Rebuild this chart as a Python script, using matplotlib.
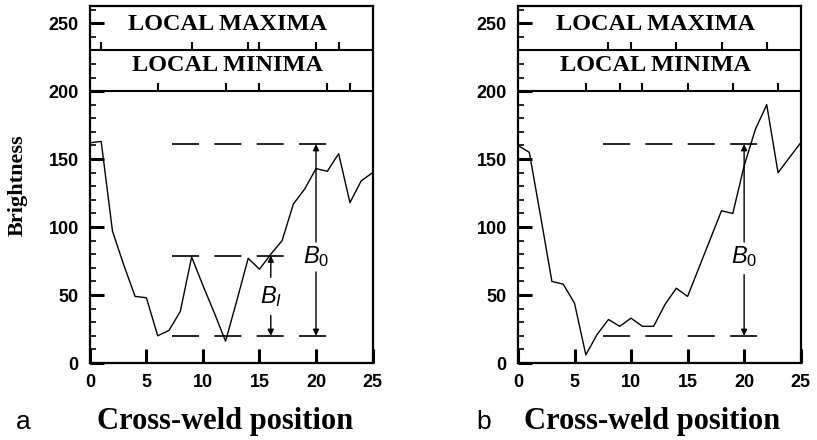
import matplotlib.pyplot as plt

# cross-weld position, brightness for the two scans
pos = list(range(26))
bright_a = [162, 163, 97, 72, 49, 48, 20, 24, 38, 78, 57, 37, 16, 46, 77, 69,
            80, 90, 117, 128, 143, 141, 154, 118, 134, 140]
bright_b = [160, 155, 108, 60, 58, 44, 6, 21, 32, 27, 33, 27, 27, 43, 55, 49,
            70, 91, 112, 110, 145, 172, 190, 140, 151, 162]

# positions flagged in the strips above the plot
maxima_a = [1, 9, 14, 15, 20, 22]
minima_a = [6, 12, 15, 21, 23]
maxima_b = [8, 10, 14, 18, 22]
minima_b = [6, 9, 11, 15, 19, 23]

# dashed reference levels and the B arrows
levels_a = [161, 79, 20]
levels_b = [161, 20]
xticks = [0, 5, 10, 15, 20, 25]
yticks = [0, 50, 100, 150, 200, 250]

plt.rcParams['mathtext.fontset'] = 'custom'
plt.rcParams['mathtext.rm'] = 'Liberation Sans'
plt.rcParams['mathtext.it'] = 'Liberation Sans:italic'
plt.rcParams['lines.scale_dashes'] = False

fig = plt.figure(figsize=(8.17, 4.40), dpi=100)
ax_a = fig.add_axes([0.110, 0.175, 0.346, 0.811])
ax_b = fig.add_axes([0.634, 0.175, 0.346, 0.811])

dash = (0, (19.5, 11.0))
tickfont = dict(family='Liberation Sans', weight='bold', size=13)
serif_b = dict(family='Liberation Serif', weight='bold')


def arrow(ax, x, y0, y1):
    ax.annotate('', xy=(x, y1), xytext=(x, y0),
                arrowprops=dict(arrowstyle='-|>', lw=1, color='k',
                                mutation_scale=9, shrinkA=0, shrinkB=0))


for ax, y, mx, mn in [(ax_a, bright_a, maxima_a, minima_a),
                      (ax_b, bright_b, maxima_b, minima_b)]:
    ax.plot(pos, y, color='k', lw=1)
    ax.axhline(230, color='k', lw=1.5)
    ax.axhline(200, color='k', lw=1.5)
    ax.vlines(mx, 230, 236, color='k', lw=1.5)
    ax.vlines(mn, 200, 206, color='k', lw=1.5)
    ax.text(12.2, 249, 'LOCAL MAXIMA', ha='center', va='center', size=17.5, **serif_b)
    ax.text(12.2, 219, 'LOCAL MINIMA', ha='center', va='center', size=17.5, **serif_b)
    ax.set_xlim(0, 25)
    ax.set_ylim(0, 262.5)
    ax.set_xticks(xticks)
    ax.set_yticks(yticks)
    ax.set_yticks(range(0, 261, 10), minor=True)
    ax.tick_params(axis='both', direction='in', width=2.2, length=10, pad=8)
    ax.tick_params(axis='y', which='minor', direction='in', width=1.2, length=4)
    for lab in ax.get_xticklabels() + ax.get_yticklabels():
        lab.set_fontproperties(tickfont)
    for s in ax.spines.values():
        s.set_linewidth(1.6)

# panel a: B0 and BI
ax_a.hlines(levels_a[0], 7.3, 21.1, color='k', lw=1.2, linestyles=[dash])
ax_a.hlines(levels_a[1], 7.3, 17.4, color='k', lw=1.2, linestyles=[dash])
ax_a.hlines(levels_a[2], 7.3, 21.1, color='k', lw=1.2, linestyles=[dash])
arrow(ax_a, 16, 63, levels_a[1])
arrow(ax_a, 16, 35, levels_a[2])
ax_a.text(16, 49, r'$B_I$', ha='center', va='center', size=17)
arrow(ax_a, 20, 89, levels_a[0])
arrow(ax_a, 20, 67, levels_a[2])
ax_a.text(20, 78, r'$B_0$', ha='center', va='center', size=17)

# panel b: B0
ax_b.hlines(levels_b[0], 7.5, 21.2, color='k', lw=1.2, linestyles=[dash])
ax_b.hlines(levels_b[1], 7.5, 21.2, color='k', lw=1.2, linestyles=[dash])
arrow(ax_b, 20, 89, levels_b[0])
arrow(ax_b, 20, 65, levels_b[1])
ax_b.text(20, 78, r'$B_0$', ha='center', va='center', size=17)

fig.text(0.021, 0.58, 'Brightness', rotation=90, ha='center', va='center',
         size=16, **serif_b)
fig.text(0.275, 0.025, 'Cross-weld position', ha='center', va='baseline',
         size=22, **serif_b)
fig.text(0.798, 0.025, 'Cross-weld position', ha='center', va='baseline',
         size=22, **serif_b)
fig.text(0.020, 0.025, 'a', family='Liberation Sans', size=19, va='baseline')
fig.text(0.583, 0.025, 'b', family='Liberation Sans', size=19, va='baseline')

fig.savefig('out.png', dpi=100)
